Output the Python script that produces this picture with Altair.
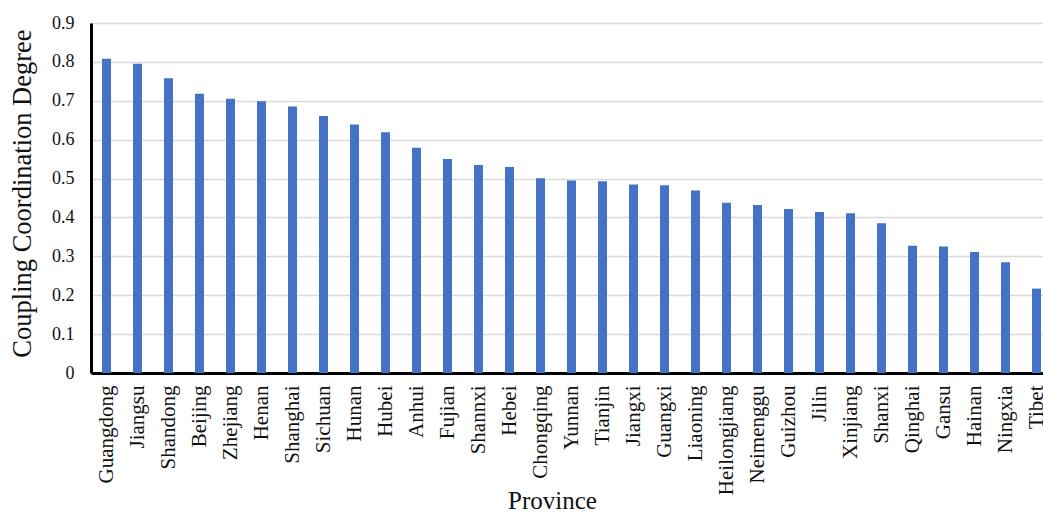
import altair as alt
import pandas as pd

provinces = ["Guangdong", "Jiangsu", "Shandong", "Beijing", "Zhejiang", "Henan", "Shanghai",
             "Sichuan", "Hunan", "Hubei", "Anhui", "Fujian", "Shannxi", "Hebei", "Chongqing",
             "Yunnan", "Tianjin", "Jiangxi", "Guangxi", "Liaoning", "Heilongjiang", "Neimenggu",
             "Guizhou", "Jilin", "Xinjiang", "Shanxi", "Qinghai", "Gansu", "Hainan", "Ningxia",
             "Tibet"]
values = [0.808, 0.795, 0.758, 0.718, 0.705, 0.699, 0.685,
          0.661, 0.639, 0.619, 0.579, 0.550, 0.535, 0.530, 0.501,
          0.495, 0.493, 0.485, 0.483, 0.469, 0.438, 0.432,
          0.422, 0.414, 0.411, 0.385, 0.327, 0.325, 0.311, 0.285,
          0.217]
y_ticks = [0, 0.1, 0.2, 0.3, 0.4, 0.5, 0.6, 0.7, 0.8, 0.9]

df = pd.DataFrame({"Province": provinces, "Value": values})

FONT = "Liberation Serif"

chart = alt.Chart(df).mark_bar(color="#4472C4", clip=False).encode(
    x=alt.X("Province:N", sort=provinces,
            scale=alt.Scale(range=[0, 961], paddingInner=0.71, paddingOuter=0.355),
            axis=alt.Axis(title="Province", labelAngle=-90, labelAlign="right",
                          labelBaseline="middle", labelPadding=12, ticks=False,
                          domainColor="#000000", domainWidth=3,
                          labelFont=FONT, labelFontSize=21, labelColor="#111111",
                          titleFont=FONT, titleFontSize=25, titleFontWeight="normal",
                          titleColor="#111111", titleX=461, titleY=135,
                          titleBaseline="alphabetic", titleAlign="center",
                          labelOverlap=False, labelLimit=300)),
    y=alt.Y("Value:Q",
            scale=alt.Scale(domain=[0, 0.9], nice=False),
            axis=alt.Axis(title="Coupling Coordination Degree", values=y_ticks,
                          format="~g", ticks=False, labelPadding=17,
                          domainColor="#000000", domainWidth=3,
                          gridColor="#d9d9d9", gridWidth=1.5,
                          labelFont=FONT, labelFontSize=18, labelColor="#111111",
                          titleFont=FONT, titleFontSize=26.5, titleFontWeight="normal",
                          titleColor="#111111", titleX=-69, titleY=170,
                          titleAlign="center", titleBaseline="middle")),
).properties(
    width=952,
    height=350,
    autosize=alt.AutoSizeParams(type="none"),
    padding={"left": 91, "top": 23, "right": 0, "bottom": 140},
).configure_view(stroke=None).configure(background="#ffffff")

chart.save("out.html", embed_options={"renderer": "svg", "actions": False})
